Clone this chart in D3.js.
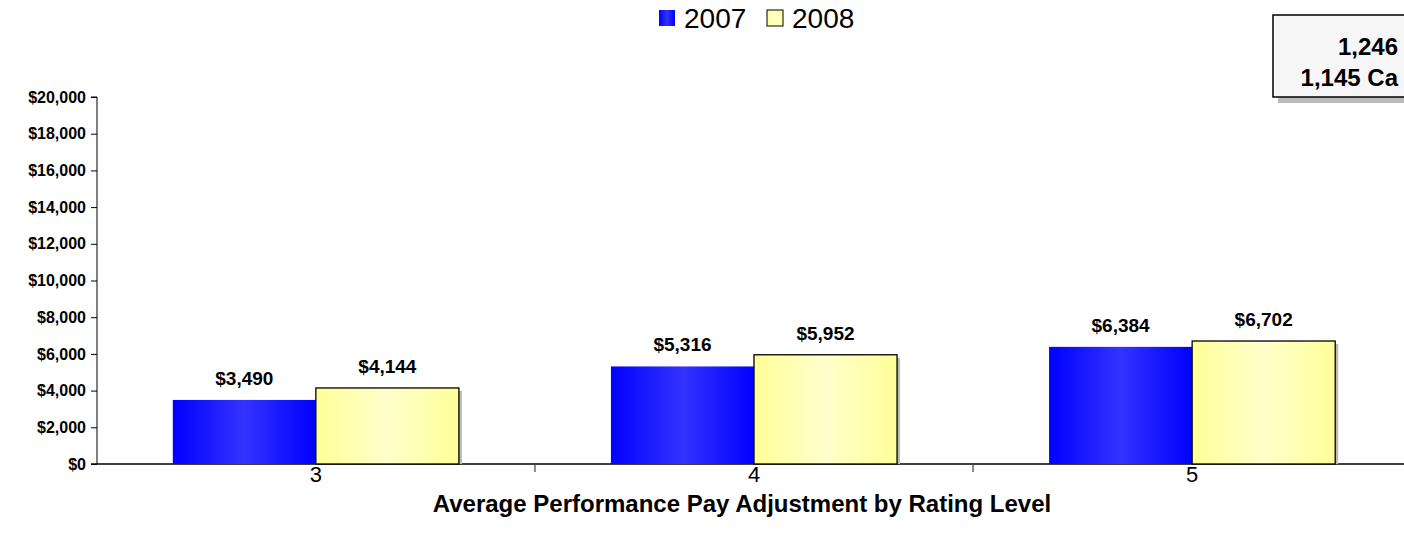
<!DOCTYPE html>
<html>
<head>
<title>Average Performance Pay Adjustment</title>
<script src="https://d3js.org/d3.v7.min.js"></script>
<style type="text/css">
  body { margin:0; background:white; }
  svg text { font-family: "Liberation Sans", Arial, sans-serif; }
</style>
</head>
<body>
<div id="chart"></div>
<script type="text/javascript">

var categories = ["3", "4", "5"];
var series = ["2007", "2008"];
var values2007 = [3490, 5316, 6384];
var values2008 = [4144, 5952, 6702];
var yTicks = [0, 2000, 4000, 6000, 8000, 10000, 12000, 14000, 16000, 18000, 20000];
var boxLines = ["1,246", "1,145 Ca"];

var width = 1404, height = 544;

var svg = d3.select("#chart").append("svg")
    .attr("width", width)
    .attr("height", height);

var defs = svg.append("defs");
function grad(id, edge, mid) {
  var g = defs.append("linearGradient").attr("id", id)
      .attr("x1", "0%").attr("x2", "100%").attr("y1", "0%").attr("y2", "0%");
  g.append("stop").attr("offset", "0%").attr("stop-color", edge);
  g.append("stop").attr("offset", "50%").attr("stop-color", mid);
  g.append("stop").attr("offset", "100%").attr("stop-color", edge);
}
grad("g2007", "#0000ff", "#3333ff");
grad("g2008", "#ffff99", "#ffffcc");

var x0 = d3.scaleBand().domain(categories).range([97, 1411]).paddingInner(0.347).paddingOuter(0.173);
var x1 = d3.scaleBand().domain(series).range([0, x0.bandwidth()]);
var y = d3.scaleLinear().domain([0, 20000]).range([464, 97]);

var fmt = function(v) { return "$" + d3.format(",")(v); };

// y axis
var yAxis = svg.append("g")
    .attr("transform", "translate(97,0)")
    .call(d3.axisLeft(y).tickValues(yTicks).tickSize(6).tickPadding(5).tickFormat(fmt));
yAxis.select(".domain").attr("stroke", "#000").attr("d", "M-6,97H0V464");
yAxis.selectAll("text").attr("font-size", 16).attr("font-weight", "bold").attr("fill", "#000")
  .attr("font-family", "'Liberation Sans', Arial, sans-serif");
yAxis.selectAll("line").attr("stroke", "#000");

// x axis line + category separators
svg.append("line").attr("x1", 91).attr("x2", width).attr("y1", y(0)).attr("y2", y(0))
   .attr("stroke", "#000").attr("stroke-width", 1.3);
var seps = [categories[1], categories[2]].map(function(c) { return x0(c) - x0.step() * x0.paddingInner() / 2; });
svg.selectAll(".sep").data(seps).enter().append("line")
   .attr("x1", function(d) { return d; }).attr("x2", function(d) { return d; })
   .attr("y1", y(0) + 1).attr("y2", y(0) + 8)
   .attr("stroke", "#888").attr("stroke-width", 2);

var rows = categories.map(function(c, i) {
  return { cat: c, vals: [{ s: "2007", v: values2007[i] }, { s: "2008", v: values2008[i] }] };
});

var groups = svg.selectAll(".grp").data(rows).enter().append("g")
    .attr("transform", function(d) { return "translate(" + x0(d.cat) + ",0)"; });

// shadow for yellow bars
groups.selectAll(".shadow").data(function(d) { return d.vals.filter(function(e) { return e.s == "2008"; }); })
  .enter().append("rect")
  .attr("x", function(d) { return x1(d.s) + 3; })
  .attr("y", function(d) { return y(d.v) + 3; })
  .attr("width", x1.bandwidth())
  .attr("height", function(d) { return y(0) - y(d.v) - 3; })
  .attr("fill", "#bbb");

groups.selectAll(".bar").data(function(d) { return d.vals; }).enter().append("rect")
  .attr("x", function(d) { return x1(d.s); })
  .attr("y", function(d) { return y(d.v); })
  .attr("width", x1.bandwidth())
  .attr("height", function(d) { return y(0) - y(d.v); })
  .attr("fill", function(d) { return "url(#g" + d.s + ")"; })
  .attr("stroke", function(d) { return d.s == "2008" ? "#000" : "none"; })
  .attr("stroke-width", 1.3);

groups.selectAll(".lbl").data(function(d) { return d.vals; }).enter().append("text")
  .attr("x", function(d) { return x1(d.s) + x1.bandwidth() / 2; })
  .attr("y", function(d) { return y(d.v) - 15; })
  .attr("text-anchor", "middle")
  .attr("font-size", 19).attr("font-weight", "bold")
  .text(function(d) { return fmt(d.v); });

// category labels
svg.selectAll(".cat").data(categories).enter().append("text")
  .attr("x", function(d) { return x0(d) + x0.bandwidth() / 2; })
  .attr("y", 482)
  .attr("text-anchor", "middle")
  .attr("font-size", 22)
  .text(function(d) { return d; });

svg.append("text").attr("x", 742).attr("y", 512).attr("text-anchor", "middle")
  .attr("font-size", 24).attr("font-weight", "bold")
  .text("Average Performance Pay Adjustment by Rating Level");

// legend
var lg = svg.selectAll(".leg").data(series).enter().append("g")
  .attr("transform", function(d, i) { return "translate(" + (659 + i * 108) + ",0)"; });
lg.append("rect").attr("x", 0).attr("y", 10).attr("width", 16).attr("height", 16)
  .attr("fill", function(d) { return "url(#g" + d + ")"; })
  .attr("stroke", function(d) { return d == "2008" ? "#000" : "none"; });
lg.append("text").attr("x", 25).attr("y", 28).attr("font-size", 28)
  .text(function(d) { return d; });

// clipped note box
svg.append("rect").attr("x", 1278).attr("y", 21).attr("width", 140).attr("height", 82).attr("fill", "#bbb");
svg.append("rect").attr("x", 1273).attr("y", 15).attr("width", 140).attr("height", 82)
  .attr("fill", "#f6f6f6").attr("stroke", "#000").attr("stroke-width", 1.5);
svg.selectAll(".box").data(boxLines).enter().append("text")
  .attr("x", 1398).attr("y", function(d, i) { return 55 + i * 31; })
  .attr("text-anchor", "end").attr("font-size", 24).attr("font-weight", "bold")
  .text(function(d) { return d; });

</script>
</body>
</html>
